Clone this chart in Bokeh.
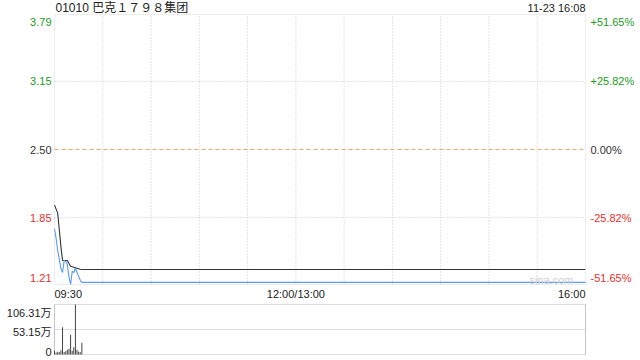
from bokeh.plotting import figure
from bokeh.models import Range1d, Label, BoxAnnotation
from bokeh.layouts import column
from bokeh.embed import file_html
from bokeh.resources import INLINE

# ---------------- data ----------------
title_text = "01010 巴克１７９８集团"
stamp_text = "11-23 16:08"
prev_close = 2.50
price_lo, price_hi = 1.21, 3.79
price_ticks = [3.79, 3.15, 2.50, 1.85, 1.21]
price_tick_labels = ["3.79", "3.15", "2.50", "1.85", "1.21"]
pct_tick_labels = ["+51.65%", "+25.82%", "0.00%", "-25.82%", "-51.65%"]
tick_colors = ["#1a9c1a", "#1a9c1a", "#333333", "#e8312d", "#e8312d"]

session_minutes = 330          # 09:30-12:00 + 13:00-16:00
time_labels = ["09:30", "12:00/13:00", "16:00"]
time_label_minutes = [0, 150, 330]
grid_minutes = [30, 60, 90, 120, 150, 180, 210, 240, 270, 300]

minutes = [0, 1, 2, 3, 4, 5, 6, 7, 8, 9, 10, 11, 12, 13, 14, 15, 16, 17, 330]
price = [1.745, 1.65, 1.535, 1.45, 1.36, 1.325, 1.44, 1.43, 1.40, 1.28,
         1.21, 1.335, 1.325, 1.37, 1.325, 1.29, 1.25, 1.23, 1.23]
avg_price = [1.97, 1.93, 1.89, 1.73, 1.57, 1.44, 1.44, 1.44, 1.44, 1.41,
             1.385, 1.38, 1.375, 1.37, 1.365, 1.36, 1.355, 1.353, 1.353]

vol_minutes = [0, 1, 2, 3, 4, 5, 6, 7, 8, 9, 10, 11, 12, 13, 14, 15, 16, 17]
volume_wan = [8, 4, 6, 5, 9, 58, 5, 7, 10, 12, 42, 8, 15.5, 106.31, 10, 6, 5, 25]
vol_max = 106.31
vol_ticks = [106.31, 53.15, 0]
vol_tick_labels = ["106.31万", "53.15万", "0"]

# ---------------- layout (pixels) ----------------
FONT = "Liberation Sans, Noto Sans CJK SC, sans-serif"
W = 640
BL, BR = 54, 55                 # chart area inset left / right
H1, BT1, BB1 = 300, 14, 16      # price panel height, inset top / bottom
H2, BT2, BB2 = 60, 4, 6         # volume panel
pxx = (W - BL - BR) / session_minutes
pxy = (H1 - BT1 - BB1) / (price_hi - price_lo)
pxv = (H2 - BT2 - BB2) / vol_max

GRID = "#c8c8c8"
BORDER = "#c4c4c4"
TEXT = "#222222"


def bare_fig(height, yr):
    f = figure(width=W, height=height,
               x_range=Range1d(-BL / pxx, session_minutes + BR / pxx),
               y_range=yr, output_backend="svg", toolbar_location=None,
               x_axis_location=None, y_axis_location=None,
               min_border=0, min_border_left=0, min_border_right=0,
               min_border_top=0, min_border_bottom=0)
    f.grid.visible = False
    f.outline_line_color = None
    f.background_fill_color = "white"
    f.border_fill_color = "white"
    return f


def label(f, x, y, text, align, color=TEXT, size="11px"):
    f.add_layout(Label(x=x, y=y, text=text, text_align=align,
                       text_baseline="middle", text_font_size=size,
                       text_color=color, text_font=FONT))


# ---------------- price panel ----------------
p = bare_fig(H1, Range1d(price_lo - BB1 / pxy, price_hi + BT1 / pxy))

p.segment(x0=grid_minutes, y0=[price_lo] * len(grid_minutes),
          x1=grid_minutes, y1=[price_hi] * len(grid_minutes),
          line_color=GRID, line_dash="1 2", line_width=1)
inner = [v for v in price_ticks[1:-1] if v != prev_close]
p.segment(x0=[0] * len(inner), y0=inner, x1=[session_minutes] * len(inner),
          y1=inner, line_color=GRID, line_dash="1 2", line_width=1)
p.segment(x0=[0], y0=[prev_close], x1=[session_minutes], y1=[prev_close],
          line_color="#f4a56a", line_dash="4 3", line_width=1)
p.add_layout(BoxAnnotation(left=0, right=session_minutes, bottom=price_lo,
                           top=price_hi, fill_color=None,
                           line_color=BORDER, line_width=1))

p.line(minutes, avg_price, line_color="#333333", line_width=1.1)
p.line(minutes, price, line_color="#5a9af0", line_width=1.1)

for i, (v, lt, rt, c) in enumerate(zip(price_ticks, price_tick_labels,
                                       pct_tick_labels, tick_colors)):
    y = v
    if i == 0:
        y = v - 7 / pxy
    elif i == len(price_ticks) - 1:
        y = v + 7 / pxy
    label(p, -3 / pxx, y, lt, "right", c)
    label(p, session_minutes + 5 / pxx, y, rt, "left", c)

label(p, 1 / pxx, price_hi + 6.5 / pxy, title_text, "left", size="12px")
label(p, session_minutes, price_hi + 6.5 / pxy, stamp_text, "right")
label(p, session_minutes - 12 / pxx, price_lo + 5 / pxy, "sina.com", "right",
      color="#cfcfcf")

time_y = price_lo - 9.5 / pxy
label(p, time_label_minutes[0], time_y, time_labels[0], "left")
label(p, time_label_minutes[1], time_y, time_labels[1], "center")
label(p, time_label_minutes[2], time_y, time_labels[2], "right")

# ---------------- volume panel ----------------
p2 = bare_fig(H2, Range1d(0 - BB2 / pxv, vol_max + BT2 / pxv))
p2.segment(x0=[0] * len(vol_ticks), y0=vol_ticks,
           x1=[session_minutes] * len(vol_ticks), y1=vol_ticks,
           line_color="#b8b8b8", line_dash="1 1", line_width=1)
p2.segment(x0=[0, session_minutes], y0=[0, 0],
           x1=[0, session_minutes], y1=[vol_max, vol_max],
           line_color=BORDER, line_width=1)
p2.segment(x0=vol_minutes, y0=[0] * len(vol_minutes), x1=vol_minutes,
           y1=volume_wan, line_color="#444444", line_width=1)
for i, (v, t) in enumerate(zip(vol_ticks, vol_tick_labels)):
    if i == 0:
        y = v - 8.5 / pxv
    elif i == 1:
        y = v - 2.5 / pxv
    else:
        y = v + 2.5 / pxv
    label(p2, -3 / pxx, y, t, "right")

layout = column(p, p2, spacing=0)
open("out.html", "w").write(file_html(layout, INLINE))
